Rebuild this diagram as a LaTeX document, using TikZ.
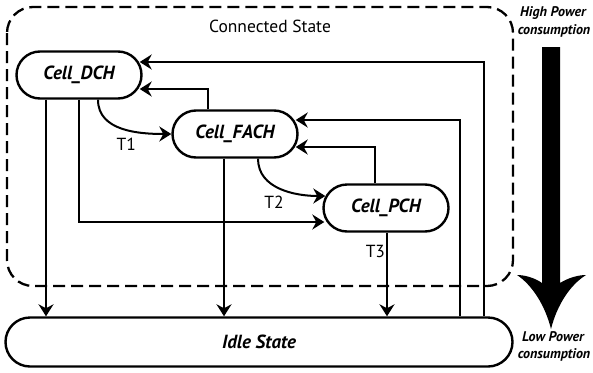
\documentclass[tikz,border=0pt]{standalone}
\usepackage{fontspec}
\setmainfont{PT Sans}
\usetikzlibrary{shapes.misc,arrows.meta}
\tikzset{
  state/.style={draw,line width=2.4pt,rounded rectangle,minimum width=125pt,minimum height=47pt,inner sep=0pt,font=\fontsize{19}{21}\selectfont\bfseries\itshape},
  conn/.style={line width=2pt,-{Stealth[length=12pt,width=15pt,inset=4pt]}},
  lbl/.style={font=\fontsize{17.5}{19}\selectfont,inner sep=1pt},
  pwr/.style={font=\fontsize{14}{15}\selectfont\bfseries\itshape,inner sep=0pt}
}
\begin{document}
\begin{tikzpicture}[x=1pt,y=-1pt]
  \useasboundingbox (0,0) rectangle (593,372);
  % connected state
  \draw[line width=2.3pt,dash pattern=on 12pt off 6pt,rounded corners=26pt] (7,7) rectangle (513,286);
  \node[lbl] (cs) at (270,26) {Connected State};
  % states
  \node[state] (dch) at (79,75) {Cell\_DCH};
  \node[state] (fach) at (235,134) {Cell\_FACH};
  \node[state] (pch) at (386,208) {Cell\_PCH};
  \node[state,minimum width=507pt,minimum height=49pt] (idle) at (259,342) {Idle State};
  \coordinate (c1) at (460,0);
  \coordinate (c2) at (484,0);
  % transitions
  \draw[conn] ([xshift=-33pt]dch.south) -- ([xshift=-33pt]dch.south |- idle.north);
  \draw[conn] (dch.south) |- ([xshift=2pt,yshift=-14pt]pch.west);
  \draw[conn] ([xshift=19pt]dch.south) to[out=-90,in=180] node[lbl,pos=0.6,anchor=north east,xshift=6pt,yshift=-5pt] (t1) {T1} (fach.west);
  \draw[conn] ([xshift=-27pt]fach.north) |- ([xshift=-3pt,yshift=-14pt]dch.east);
  \draw[conn] (idle.north -| c2) |- ([xshift=-3pt,yshift=13pt]dch.east);
  \draw[conn] (idle.north -| c1) |- ([xshift=-3pt,yshift=14pt]fach.east);
  \draw[conn] ([xshift=-11pt]pch.north) |- ([xshift=-3pt,yshift=-13pt]fach.east);
  \draw[conn] ([xshift=-11pt]fach.south) -- ([xshift=-11pt]fach.south |- idle.north);
  \draw[conn] ([xshift=23pt]fach.south) to[out=-90,in=180] node[lbl,pos=0.6,anchor=north east,xshift=-3pt,yshift=-2pt] (t2) {T2} ([xshift=3pt,yshift=12pt]pch.west);
  \draw[conn] ([xshift=1pt]pch.south) -- node[lbl,left=0pt,pos=0.22] (t3) {T3} ([xshift=1pt]pch.south |- idle.north);
  % power arrow
  \node[pwr] (hp) at (553,13) {High Power};
  \node[pwr] (hc) at (554,31) {consumption};
  \node[pwr] (lp) at (553,337) {Low Power};
  \node[pwr] (lc) at (554,355) {consumption};
  \fill (542,47) -- (560,47) -- (560,283) .. controls (568,278) and (578,275) .. (586,275)
    .. controls (570,285) and (557,305) .. (551,329) .. controls (545,305) and (532,285) .. (517,275)
    .. controls (525,275) and (535,278) .. (542,283) -- cycle;
\end{tikzpicture}
\end{document}
